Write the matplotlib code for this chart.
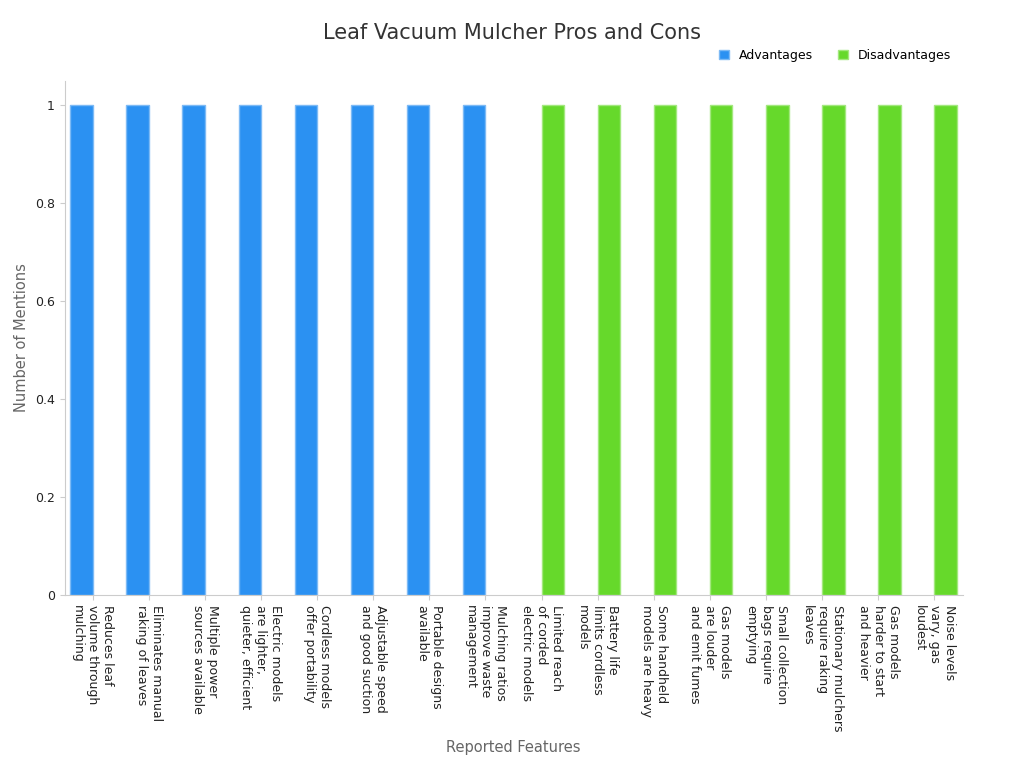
import numpy as np
import matplotlib.pyplot as plt

categories = [
    "Reduces leaf\nvolume through\nmulching",
    "Eliminates manual\nraking of leaves",
    "Multiple power\nsources available",
    "Electric models\nare lighter,\nquieter, efficient",
    "Cordless models\noffer portability",
    "Adjustable speed\nand good suction",
    "Portable designs\navailable",
    "Mulching ratios\nimprove waste\nmanagement",
    "Limited reach\nof corded\nelectric models",
    "Battery life\nlimits cordless\nmodels",
    "Some handheld\nmodels are heavy",
    "Gas models\nare louder\nand emit fumes",
    "Small collection\nbags require\nemptying",
    "Stationary mulchers\nrequire raking\nleaves",
    "Gas models\nharder to start\nand heavier",
    "Noise levels\nvary, gas\nloudest",
]
advantages = [1, 1, 1, 1, 1, 1, 1, 1, 0, 0, 0, 0, 0, 0, 0, 0]
disadvantages = [0, 0, 0, 0, 0, 0, 0, 0, 1, 1, 1, 1, 1, 1, 1, 1]

fig, ax = plt.subplots(figsize=(10.24, 7.68), dpi=100)
fig.subplots_adjust(left=0.063, right=0.94, top=0.895, bottom=0.225)

x = np.arange(len(categories))
w = 0.4
# zero values are not drawn (no outline on the baseline)
adv = np.where(np.array(advantages) > 0, advantages, np.nan)
dis = np.where(np.array(disadvantages) > 0, disadvantages, np.nan)
ax.bar(x - w / 2, adv, w, color="#2b91f2", edgecolor="#7dbaf5", linewidth=1, label="Advantages")
ax.bar(x + w / 2, dis, w, color="#66d92b", edgecolor="#a3e87e", linewidth=1, label="Disadvantages")

ax.set_xlim(-0.5, len(categories) - 0.5)
ax.set_ylim(0, 1.05)
ax.set_yticks([0, 0.2, 0.4, 0.6, 0.8, 1])
ax.set_yticklabels(["0", "0.2", "0.4", "0.6", "0.8", "1"])
ax.set_xticks(x)
ax.set_xticklabels(categories, rotation=270, ha="center", va="top", multialignment="left",
                   fontsize=9, color="#222222")
ax.tick_params(axis="y", labelsize=9, colors="#222222")
ax.tick_params(axis="both", color="#cccccc")
for s in ["top", "right"]:
    ax.spines[s].set_visible(False)
for s in ["left", "bottom"]:
    ax.spines[s].set_color("#cccccc")

ax.set_xlabel("Reported Features", fontsize=10.5, color="#666666", labelpad=6)
ax.set_ylabel("Number of Mentions", fontsize=10.5, color="#666666")
fig.suptitle("Leaf Vacuum Mulcher Pros and Cons", fontsize=15, color="#333333", y=0.97)
ax.legend(loc="lower right", bbox_to_anchor=(1.0, 1.015), ncol=2, frameon=False, fontsize=9,
          handlelength=0.8, handleheight=0.8, columnspacing=2)

fig.savefig("out.png")
